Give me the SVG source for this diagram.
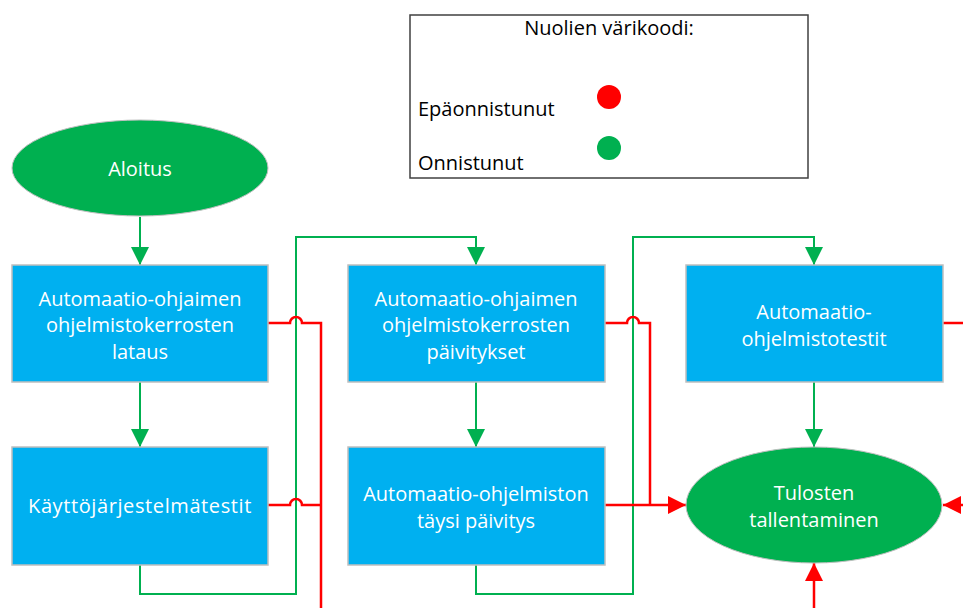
<svg xmlns="http://www.w3.org/2000/svg" width="963" height="608" viewBox="0 0 963 608">
<style>
.box{fill:#00B0F0;stroke:#BFBFBF;stroke-width:1.5}
.ell{fill:#00B050;stroke:#BFBFBF;stroke-width:1}
.t{font-family:"Open Sans","Noto Sans",sans-serif;font-size:20px;fill:#fff;text-anchor:middle;dominant-baseline:central}
.lt{font-family:"Open Sans","Noto Sans",sans-serif;font-size:20px;fill:#000}
.g{fill:none;stroke:#00B050;stroke-width:2}
.r{fill:none;stroke:#FF0000;stroke-width:2.5}
</style>
<defs>
<marker id="ag" markerUnits="userSpaceOnUse" markerWidth="18" markerHeight="18" refX="18" refY="9" orient="auto"><path d="M0,0 L18,9 L0,18 Z" fill="#00B050"/></marker>
<marker id="ar" markerUnits="userSpaceOnUse" markerWidth="18" markerHeight="18" refX="18" refY="9" orient="auto"><path d="M0,0 L18,9 L0,18 Z" fill="#FF0000"/></marker>
</defs>
<rect width="963" height="608" fill="#fff"/>
<g id="legend">
<rect x="410" y="15" width="398" height="163" fill="#fff" stroke="#404040" stroke-width="1.5"/>
<text class="lt" x="609" y="35" text-anchor="middle">Nuolien värikoodi:</text>
<circle cx="609" cy="97" r="12" fill="#FF0000"/>
<circle cx="609" cy="148" r="12" fill="#00B050"/>
<text class="lt" x="418" y="116">Epäonnistunut</text>
<text class="lt" x="418" y="170">Onnistunut</text>
</g>
<g id="connectors">
<path class="g" d="M140,217 V265" marker-end="url(#ag)"/>
<path class="g" d="M140,382 V447" marker-end="url(#ag)"/>
<path class="g" d="M140,565 V594 H296 V237 H476 V265" marker-end="url(#ag)"/>
<path class="g" d="M476,382 V447" marker-end="url(#ag)"/>
<path class="g" d="M476,565 V594 H633 V237 H814 V265" marker-end="url(#ag)"/>
<path class="g" d="M814,382 V447" marker-end="url(#ag)"/>
<path class="r" d="M268,323 H290 A6,6 0 0 1 302,323 H321 V612"/>
<path class="r" d="M268,505 H290 A6,6 0 0 1 302,505 H321"/>
<path class="r" d="M605,323 H627 A6,6 0 0 1 639,323 H650 V505"/>
<path class="r" d="M605,505 H686" marker-end="url(#ar)"/>
<path class="r" d="M943,323 H963"/>
<path class="r" d="M963,505 H943" marker-end="url(#ar)"/>
<path class="r" d="M814,608 V563" marker-end="url(#ar)"/>
</g>
<g id="n-aloitus"><ellipse class="ell" cx="140" cy="168" rx="128" ry="48"/><text class="t" x="140" y="168">Aloitus</text></g>
<g id="n-lataus"><rect class="box" x="12" y="265" width="256" height="117"/><text class="t" x="140" y="298">Automaatio-ohjaimen</text><text class="t" x="140" y="324">ohjelmistokerrosten</text><text class="t" x="140" y="351">lataus</text></g>
<g id="n-kjt"><rect class="box" x="12" y="447" width="256" height="118"/><text class="t" x="140" y="505" letter-spacing="0.6">Käyttöjärjestelmätestit</text></g>
<g id="n-paiv"><rect class="box" x="348" y="265" width="257" height="117"/><text class="t" x="476" y="298">Automaatio-ohjaimen</text><text class="t" x="476" y="324">ohjelmistokerrosten</text><text class="t" x="476" y="351">päivitykset</text></g>
<g id="n-taysi"><rect class="box" x="348" y="447" width="257" height="118"/><text class="t" x="476" y="493">Automaatio-ohjelmiston</text><text class="t" x="476" y="520">täysi päivitys</text></g>
<g id="n-testit"><rect class="box" x="686" y="265" width="257" height="117"/><text class="t" x="814" y="311">Automaatio-</text><text class="t" x="814" y="338">ohjelmistotestit</text></g>
<g id="n-tulosten"><ellipse class="ell" cx="814" cy="505" rx="128" ry="58"/><text class="t" x="814" y="492">Tulosten</text><text class="t" x="814" y="519">tallentaminen</text></g>
</svg>
